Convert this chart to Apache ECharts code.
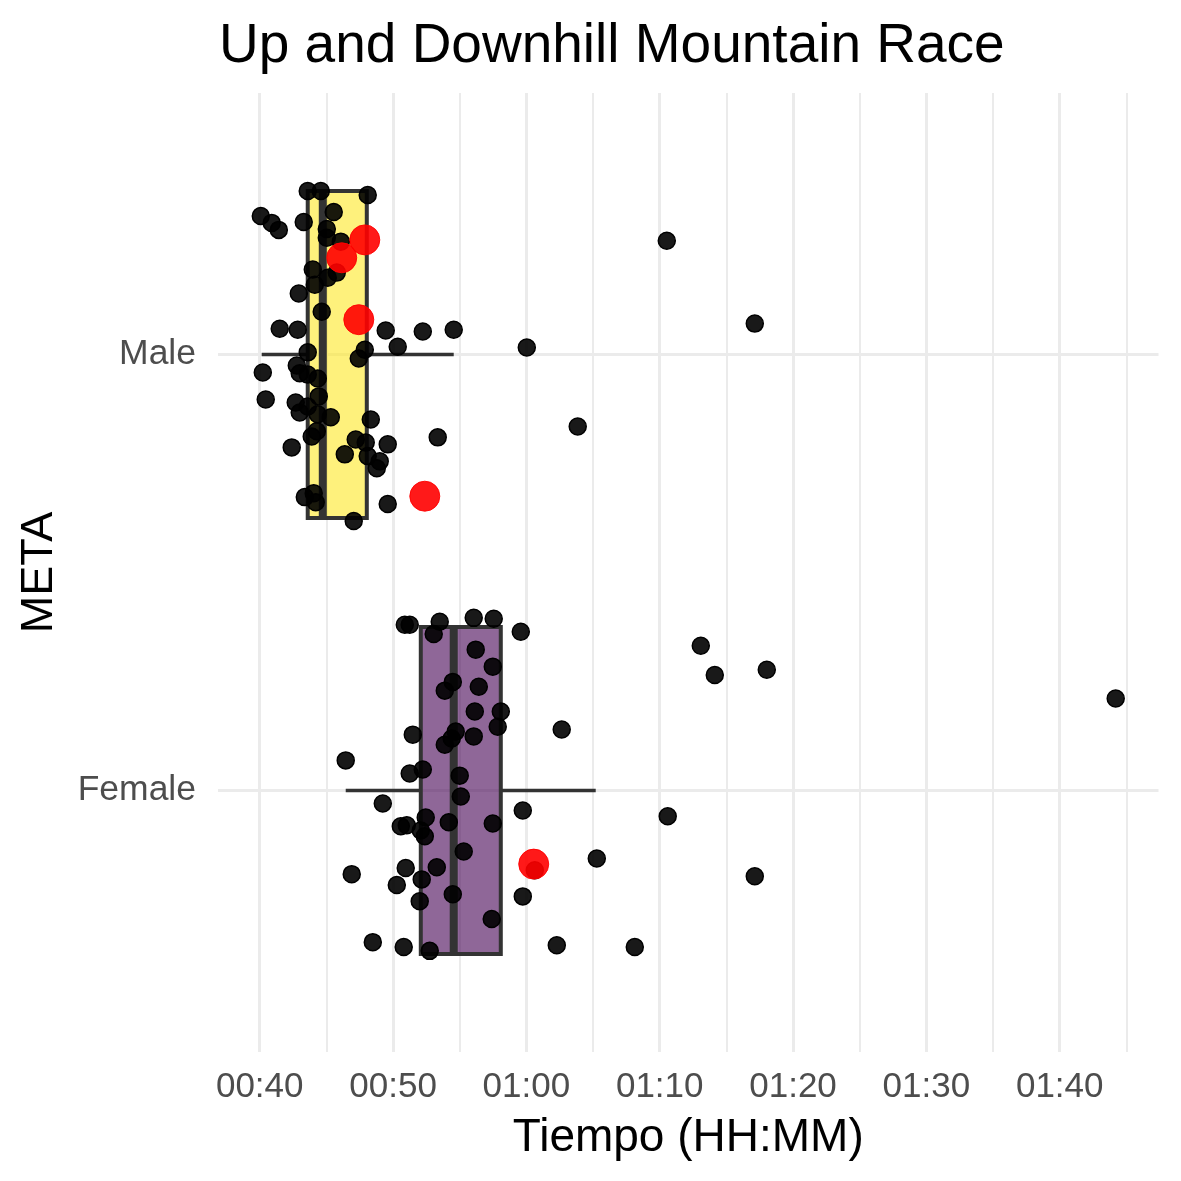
<!DOCTYPE html>
<html><head><meta charset="utf-8">
<script src="https://cdn.jsdelivr.net/npm/echarts@6/dist/echarts.min.js"></script>
<style>html,body{margin:0;padding:0;background:#fff}#chart{width:1181px;height:1181px}</style>
</head><body><div id="chart"></div>
<script>
// categories on the y axis (value 1 = Female, 2 = Male)
const categories = ['Female', 'Male'];
// x axis ticks (minutes)
const xTicks = [40, 50, 60, 70, 80, 90, 100];
const xTickLabels = ['00:40', '00:50', '01:00', '01:10', '01:20', '01:30', '01:40'];
const minorTicks = [45, 55, 65, 75, 85, 95, 105];

// boxplot statistics (minutes), index 0 = Female, 1 = Male
const boxMin    = [46.45, 40.15];
const boxQ1     = [52.08, 43.60];
const boxMedian = [54.55, 44.73];
const boxQ3     = [58.08, 48.03];
const boxMax    = [65.20, 54.55];
const boxFill   = ['rgba(68,1,84,0.6)', 'rgba(253,231,37,0.6)'];

// Male runners: time (minutes) and vertical jitter
const maleTimes = [43.60,44.58,48.10,40.08,40.90,41.43,43.30,45.55,45.03,45.03,46.08,45.78,43.98,44.13,45.10,42.93,44.65,41.50,42.85,49.45,52.23,54.55,50.35,47.88,43.60,47.43,40.23,42.78,43.00,43.60,44.35,44.43,40.45,42.70,43.00,43.60,44.35,45.33,48.33,44.28,43.90,42.40,47.20,47.95,49.60,46.38,48.10,49.00,48.78,53.35,43.38,44.05,44.20,49.60,47.05,60.03,70.53,77.13,63.85];
const maleJitter = [0.375,0.375,0.366,0.318,0.302,0.286,0.304,0.327,0.288,0.268,0.259,0.188,0.195,0.160,0.176,0.140,0.098,0.059,0.057,0.055,0.053,0.057,0.018,0.011,0.005,-0.009,-0.041,-0.025,-0.043,-0.046,-0.055,-0.096,-0.103,-0.110,-0.133,-0.119,-0.137,-0.144,-0.149,-0.176,-0.188,-0.213,-0.195,-0.202,-0.206,-0.229,-0.233,-0.245,-0.261,-0.190,-0.327,-0.318,-0.339,-0.343,-0.382,0.016,0.261,0.071,-0.165];

// Female runners
const femaleTimes = [50.88,51.25,53.50,53.05,56.05,57.55,59.58,56.20,57.48,54.48,53.88,56.43,56.13,58.08,57.85,56.05,54.70,54.40,53.88,51.48,46.45,62.65,51.25,52.23,55.00,55.08,49.23,59.73,52.45,50.58,51.03,52.08,52.38,54.18,57.48,55.30,46.90,50.95,53.28,52.15,50.28,52.00,54.48,59.73,60.63,57.40,48.48,50.80,52.75,62.28,73.08,74.13,78.03,104.20,65.28,70.60,77.13,68.13];
const femaleJitter = [0.380,0.380,0.387,0.359,0.396,0.394,0.364,0.323,0.284,0.249,0.229,0.238,0.181,0.181,0.146,0.124,0.135,0.119,0.105,0.128,0.069,0.140,0.039,0.048,0.034,-0.014,-0.030,-0.046,-0.062,-0.082,-0.080,-0.092,-0.105,-0.073,-0.076,-0.140,-0.192,-0.178,-0.176,-0.204,-0.217,-0.254,-0.238,-0.243,-0.183,-0.295,-0.348,-0.359,-0.368,-0.355,0.332,0.265,0.277,0.211,-0.156,-0.059,-0.197,-0.359];

// highlighted runners (red)
const hlCategory = [2, 2, 2, 2, 1];
const hlTimes    = [47.88, 46.15, 47.43, 52.38, 60.55];
const hlJitter   = [0.263, 0.222, 0.080, -0.325, -0.169];

const FONT = 'Liberation Sans, Arial, sans-serif';

const boxData = categories.map((c, i) => [i + 1, boxMin[i], boxQ1[i], boxMedian[i], boxQ3[i], boxMax[i]]);
const blackPts = maleTimes.map((t, i) => [t, 2 + maleJitter[i]])
  .concat(femaleTimes.map((t, i) => [t, 1 + femaleJitter[i]]));
const redPts = hlTimes.map((t, i) => [t, hlCategory[i] + hlJitter[i]]);

const chart = echarts.init(document.getElementById('chart'), null, {renderer: 'canvas'});
chart.setOption({
  animation: false,
  backgroundColor: '#ffffff',
  title: {
    text: 'Up and Downhill Mountain Race',
    left: 214, top: 14,
    textStyle: {fontFamily: FONT, fontSize: 55, fontWeight: 'normal', color: '#000'}
  },
  grid: {left: 218, right: 22.5, top: 93, bottom: 129, containLabel: false},
  xAxis: {
    type: 'value', min: 36.87, max: 107.41,
    name: 'Tiempo (HH:MM)', nameLocation: 'middle', nameGap: 63,
    nameTextStyle: {fontFamily: FONT, fontSize: 46, color: '#000'},
    axisLine: {show: false},
    axisTick: {show: false, customValues: xTicks},
    axisLabel: {
      customValues: xTicks, margin: 18,
      fontFamily: FONT, fontSize: 35, color: '#4d4d4d',
      formatter: v => xTickLabels[xTicks.indexOf(Math.round(v))] || ''
    },
    splitLine: {show: true, lineStyle: {color: '#ebebeb', width: 3}}
  },
  yAxis: {
    type: 'value', min: 0.4, max: 2.6,
    name: 'META', nameLocation: 'middle', nameGap: 156, nameRotate: 90,
    nameTextStyle: {fontFamily: FONT, fontSize: 45, color: '#000'},
    axisLine: {show: false},
    axisTick: {show: false, customValues: [1, 2]},
    axisLabel: {
      customValues: [1, 2], margin: 22,
      fontFamily: FONT, fontSize: 35.5, color: '#4d4d4d',
      formatter: v => categories[Math.round(v) - 1] || ''
    },
    splitLine: {show: true, lineStyle: {color: '#ebebeb', width: 3}}
  },
  series: [
    {
      type: 'scatter', data: [], z: 1, silent: true,
      markLine: {
        z: 1, silent: true, symbol: 'none', label: {show: false},
        lineStyle: {color: '#ebebeb', width: 2, type: 'solid', opacity: 1},
        data: minorTicks.map(v => ({xAxis: v}))
      }
    },
    {
      type: 'custom', z: 2,
      data: boxData,
      encode: {x: [1, 2, 3, 4, 5], y: 0},
      renderItem: (params, api) => {
        const c = api.value(0);
        const lo = api.coord([api.value(1), c]);
        const q1 = api.coord([api.value(2), c]);
        const md = api.coord([api.value(3), c]);
        const q3 = api.coord([api.value(4), c]);
        const hi = api.coord([api.value(5), c]);
        const top = api.coord([api.value(2), c + 0.375])[1];
        const bot = api.coord([api.value(2), c - 0.375])[1];
        const stroke = '#333333';
        const mw = 8;
        return {
          type: 'group',
          children: [
            {type: 'line', shape: {x1: lo[0], y1: lo[1], x2: q1[0], y2: q1[1]}, style: {stroke, lineWidth: 3.5}},
            {type: 'line', shape: {x1: q3[0], y1: q3[1], x2: hi[0], y2: hi[1]}, style: {stroke, lineWidth: 3.5}},
            {type: 'rect', shape: {x: q1[0], y: top, width: q3[0] - q1[0], height: bot - top},
              style: {fill: boxFill[params.dataIndex], stroke, lineWidth: 4}},
            {type: 'rect', shape: {x: md[0] - mw / 2, y: top, width: mw, height: bot - top},
              style: {fill: stroke, stroke: 'none'}}
          ]
        };
      }
    },
    {
      type: 'scatter', z: 3, data: blackPts, symbolSize: 17,
      itemStyle: {color: 'rgba(0,0,0,0.9)', borderColor: '#000', borderWidth: 1.5, opacity: 1}
    },
    {
      type: 'scatter', z: 4, data: redPts, symbolSize: 30,
      itemStyle: {color: 'rgba(255,0,0,0.9)', borderColor: 'rgba(255,0,0,0.9)', borderWidth: 1, opacity: 1}
    }
  ]
});
</script>
</body></html>
